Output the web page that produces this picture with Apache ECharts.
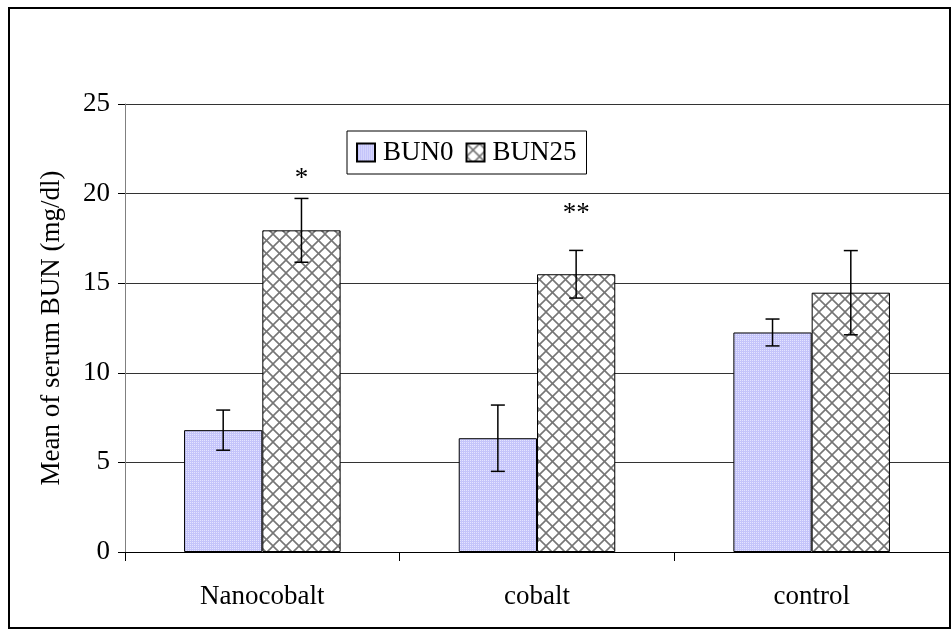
<!DOCTYPE html>
<html>
<head>
<meta charset="utf-8">
<script src="https://cdn.jsdelivr.net/npm/echarts@6/dist/echarts.min.js"></script>
<style>
html,body{margin:0;padding:0;background:#fff;}
#chart{width:951px;height:632px;}
</style>
</head>
<body>
<div id="chart"></div>
<script>
// ---- data ----
const categories = ['Nanocobalt', 'cobalt', 'control'];
const seriesNames = ['BUN0', 'BUN25'];
const bun0 = [6.8, 6.35, 12.25];
const bun0Err = [1.12, 1.85, 0.75];
const bun25 = [17.95, 15.5, 14.47];
const bun25Err = [1.78, 1.33, 2.35];
const starText = ['*', '**', ''];
const starY = [20.8, 18.85, null];
const yTicks = [0, 5, 10, 15, 20, 25];

const FONT = 'Liberation Serif, Times New Roman, serif';
const FS = 27;
const CAT_GAP = 0.43;

function dotPattern() {
  const c = document.createElement('canvas');
  c.width = 4; c.height = 4;
  const g = c.getContext('2d');
  g.fillStyle = '#c4c4fa';
  g.fillRect(0, 0, 4, 4);
  g.fillStyle = '#e4e4ff';
  g.fillRect(0, 0, 1, 1);
  g.fillRect(2, 2, 1, 1);
  g.fillRect(2, 0, 1, 1);
  g.fillRect(0, 2, 1, 1);
  return c;
}
function hatchPattern() {
  const s = 13;
  const c = document.createElement('canvas');
  c.width = s; c.height = s;
  const g = c.getContext('2d');
  g.fillStyle = '#ffffff';
  g.fillRect(0, 0, s, s);
  g.strokeStyle = '#767676';
  g.lineWidth = 1.6;
  for (const d of [-s, 0, s]) {
    g.beginPath(); g.moveTo(d, 0); g.lineTo(d + s, s); g.stroke();
    g.beginPath(); g.moveTo(d, s); g.lineTo(d + s, 0); g.stroke();
  }
  return c;
}

function errSeries(values, errs, side) {
  return {
    type: 'custom',
    z: 5,
    silent: true,
    data: categories.map((c, i) => [i, values[i] - errs[i], values[i] + errs[i]]),
    renderItem: function (params, api) {
      const ci = api.value(0);
      const band = api.size([1, 0])[0];
      const barW = band * (1 - CAT_GAP) / 2;
      const top = api.coord([ci, api.value(2)]);
      const bot = api.coord([ci, api.value(1)]);
      const x = top[0] + side * barW / 2;
      const cap = 7;
      const st = { stroke: '#000', lineWidth: 1.5 };
      return {
        type: 'group',
        children: [
          { type: 'line', shape: { x1: x, y1: top[1], x2: x, y2: bot[1] }, style: st },
          { type: 'line', shape: { x1: x - cap, y1: top[1], x2: x + cap, y2: top[1] }, style: st },
          { type: 'line', shape: { x1: x - cap, y1: bot[1], x2: x + cap, y2: bot[1] }, style: st }
        ]
      };
    }
  };
}

const chart = echarts.init(document.getElementById('chart'), null, { renderer: 'canvas' });
const option = {
  backgroundColor: '#fff',
  animation: false,
  textStyle: { fontFamily: FONT },
  graphic: [{
    type: 'rect',
    shape: { x: 9, y: 8, width: 941, height: 620 },
    style: { fill: 'none', stroke: '#000', lineWidth: 2 },
    z: 100, silent: true
  }],
  grid: { left: 125, right: 2, top: 104, bottom: 80, containLabel: false },
  legend: {
    data: seriesNames,
    left: 347, top: 131,
    orient: 'horizontal',
    padding: [8, 10, 8, 9],
    itemWidth: 18, itemHeight: 18,
    itemGap: 12,
    borderColor: '#000', borderWidth: 1,
    backgroundColor: '#fff',
    icon: 'rect',
    textStyle: { fontFamily: FONT, fontSize: FS, color: '#000', padding: [0, 0, 0, 3] },
    z: 20
  },
  xAxis: {
    type: 'category',
    data: categories,
    axisLine: { lineStyle: { color: '#000', width: 1 } },
    axisTick: { show: true, alignWithLabel: false, length: 9, lineStyle: { color: '#000' } },
    axisLabel: { fontFamily: FONT, fontSize: FS, color: '#000', margin: 31 },
    splitLine: { show: false }
  },
  yAxis: {
    type: 'value',
    min: 0, max: 25, interval: 5,
    name: 'Mean of serum BUN (mg/dl)',
    nameLocation: 'middle',
    nameGap: 60,
    nameRotate: 90,
    nameTextStyle: { fontFamily: FONT, fontSize: FS, color: '#000' },
    axisLine: { show: true, lineStyle: { color: '#808080', width: 1 } },
    axisTick: { show: true, inside: false, length: 7, lineStyle: { color: '#000' } },
    axisLabel: { fontFamily: FONT, fontSize: FS, color: '#000', margin: 15,
      formatter: v => (yTicks.indexOf(v) >= 0 ? String(v) : '') },
    splitLine: { show: true, lineStyle: { color: '#333', width: 1 } }
  },
  series: [
    {
      name: seriesNames[0], type: 'bar', data: bun0,
      barGap: '0%', barCategoryGap: (CAT_GAP * 100) + '%',
      itemStyle: { color: { image: dotPattern(), repeat: 'repeat' }, borderColor: '#000', borderWidth: 1 },
      z: 2
    },
    {
      name: seriesNames[1], type: 'bar', data: bun25,
      barGap: '0%', barCategoryGap: (CAT_GAP * 100) + '%',
      itemStyle: { color: { image: hatchPattern(), repeat: 'repeat' }, borderColor: '#000', borderWidth: 1 },
      z: 2
    },
    errSeries(bun0, bun0Err, -1),
    errSeries(bun25, bun25Err, 1),
    {
      type: 'custom', z: 6, silent: true,
      data: categories.map((c, i) => [i, starY[i] == null ? 0 : starY[i]]),
      renderItem: function (params, api) {
        const i = params.dataIndex;
        if (!starText[i]) return null;
        const band = api.size([1, 0])[0];
        const barW = band * (1 - CAT_GAP) / 2;
        const p = api.coord([api.value(0), api.value(1)]);
        return {
          type: 'text',
          style: {
            text: starText[i], x: p[0] + barW / 2, y: p[1],
            fontFamily: FONT, fontSize: FS, fill: '#000',
            align: 'center', verticalAlign: 'middle'
          }
        };
      }
    }
  ]
};
chart.setOption(option);
</script>
</body>
</html>
